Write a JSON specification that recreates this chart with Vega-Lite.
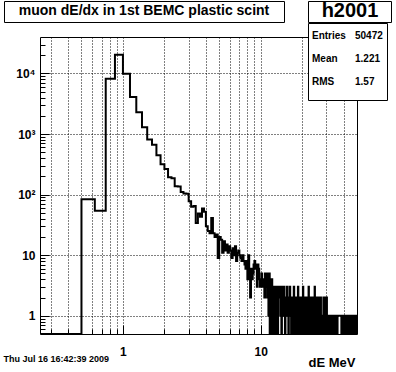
{
  "$schema": "https://vega.github.io/schema/vega-lite/v6.json",
  "width": 317,
  "height": 297,
  "autosize": "none",
  "padding": {"left": 40, "top": 37, "right": 39, "bottom": 38},
  "background": "white",
  "config": {
    "view": {"stroke": "black", "strokeWidth": 1, "fill": "white"},
    "font": "Liberation Sans"
  },
  "title": {
    "text": "Thu Jul 16 16:42:39 2009",
    "orient": "bottom",
    "anchor": "start",
    "frame": "bounds",
    "font": "Liberation Sans",
    "fontSize": 9,
    "fontWeight": "bold",
    "color": "black",
    "offset": -14
  },
  "datasets": {
    "bins": [
      {"lo": 0.25, "n": 0}, {"lo": 0.375, "n": 0},
      {"lo": 0.5, "n": 84}, {"lo": 0.625, "n": 54}, {"lo": 0.75, "n": 8200}, {"lo": 0.875, "n": 20400},
      {"lo": 1.0, "n": 9900}, {"lo": 1.125, "n": 4100}, {"lo": 1.25, "n": 2300}, {"lo": 1.375, "n": 1290},
      {"lo": 1.5, "n": 815}, {"lo": 1.625, "n": 664}, {"lo": 1.75, "n": 445}, {"lo": 1.875, "n": 318},
      {"lo": 2.0, "n": 264}, {"lo": 2.125, "n": 194}, {"lo": 2.25, "n": 186}, {"lo": 2.375, "n": 138},
      {"lo": 2.5, "n": 136}, {"lo": 2.625, "n": 110}, {"lo": 2.75, "n": 104}, {"lo": 2.875, "n": 103},
      {"lo": 3.0, "n": 78}, {"lo": 3.125, "n": 63}, {"lo": 3.25, "n": 65}, {"lo": 3.375, "n": 34},
      {"lo": 3.5, "n": 49}, {"lo": 3.625, "n": 43}, {"lo": 3.75, "n": 59}, {"lo": 3.875, "n": 52},
      {"lo": 4.0, "n": 30}, {"lo": 4.125, "n": 25}, {"lo": 4.25, "n": 23}, {"lo": 4.375, "n": 41},
      {"lo": 4.5, "n": 23}, {"lo": 4.625, "n": 20}, {"lo": 4.75, "n": 22}, {"lo": 4.875, "n": 9},
      {"lo": 5.0, "n": 20}, {"lo": 5.125, "n": 18}, {"lo": 5.25, "n": 11}, {"lo": 5.375, "n": 17},
      {"lo": 5.5, "n": 12}, {"lo": 5.625, "n": 15}, {"lo": 5.75, "n": 11}, {"lo": 5.875, "n": 14},
      {"lo": 6.0, "n": 12}, {"lo": 6.125, "n": 9}, {"lo": 6.25, "n": 13}, {"lo": 6.375, "n": 10},
      {"lo": 6.5, "n": 14}, {"lo": 6.625, "n": 8}, {"lo": 6.75, "n": 11}, {"lo": 6.875, "n": 12},
      {"lo": 7.0, "n": 10}, {"lo": 7.125, "n": 9}, {"lo": 7.25, "n": 8}, {"lo": 7.375, "n": 10},
      {"lo": 7.5, "n": 8}, {"lo": 7.625, "n": 7}, {"lo": 7.75, "n": 6}, {"lo": 7.875, "n": 8},
      {"lo": 8.0, "n": 4}, {"lo": 8.125, "n": 10}, {"lo": 8.25, "n": 6}, {"lo": 8.375, "n": 2},
      {"lo": 8.5, "n": 6}, {"lo": 8.625, "n": 4}, {"lo": 8.75, "n": 5}, {"lo": 8.875, "n": 7},
      {"lo": 9.0, "n": 8}, {"lo": 9.125, "n": 6}, {"lo": 9.25, "n": 7}, {"lo": 9.375, "n": 3},
      {"lo": 9.5, "n": 7}, {"lo": 9.625, "n": 6}, {"lo": 9.75, "n": 4}, {"lo": 9.875, "n": 3},
      {"lo": 10.0, "n": 4}, {"lo": 10.125, "n": 5}, {"lo": 10.25, "n": 3}, {"lo": 10.375, "n": 4},
      {"lo": 10.5, "n": 3}, {"lo": 10.625, "n": 2}, {"lo": 10.75, "n": 5}, {"lo": 10.875, "n": 3},
      {"lo": 11.0, "n": 5}, {"lo": 11.125, "n": 2}, {"lo": 11.25, "n": 4}, {"lo": 11.375, "n": 1},
      {"lo": 11.5, "n": 5}, {"lo": 11.625, "n": 0}, {"lo": 11.75, "n": 3}, {"lo": 11.875, "n": 0},
      {"lo": 12.0, "n": 4}, {"lo": 12.125, "n": 2}, {"lo": 12.25, "n": 0}, {"lo": 12.375, "n": 3},
      {"lo": 12.5, "n": 1}, {"lo": 12.625, "n": 3}, {"lo": 12.75, "n": 0}, {"lo": 12.875, "n": 2},
      {"lo": 13.0, "n": 3}, {"lo": 13.125, "n": 1}, {"lo": 13.25, "n": 0}, {"lo": 13.375, "n": 3},
      {"lo": 13.5, "n": 2}, {"lo": 13.625, "n": 2}, {"lo": 13.75, "n": 3}, {"lo": 13.875, "n": 1},
      {"lo": 14.0, "n": 2}, {"lo": 14.125, "n": 0}, {"lo": 14.25, "n": 3}, {"lo": 14.375, "n": 2},
      {"lo": 14.5, "n": 1}, {"lo": 14.625, "n": 2}, {"lo": 14.75, "n": 3}, {"lo": 14.875, "n": 1},
      {"lo": 15.0, "n": 0}, {"lo": 15.125, "n": 2}, {"lo": 15.25, "n": 1}, {"lo": 15.375, "n": 2},
      {"lo": 15.5, "n": 3}, {"lo": 15.625, "n": 1}, {"lo": 15.75, "n": 2}, {"lo": 15.875, "n": 0},
      {"lo": 16.0, "n": 2}, {"lo": 16.125, "n": 1}, {"lo": 16.25, "n": 3}, {"lo": 16.375, "n": 2},
      {"lo": 16.5, "n": 1}, {"lo": 16.625, "n": 0}, {"lo": 16.75, "n": 2}, {"lo": 16.875, "n": 1},
      {"lo": 17.0, "n": 2}, {"lo": 17.125, "n": 0}, {"lo": 17.25, "n": 1}, {"lo": 17.375, "n": 3},
      {"lo": 17.5, "n": 0}, {"lo": 17.625, "n": 2}, {"lo": 17.75, "n": 1}, {"lo": 17.875, "n": 0},
      {"lo": 18.0, "n": 2}, {"lo": 18.125, "n": 0}, {"lo": 18.25, "n": 1}, {"lo": 18.375, "n": 2},
      {"lo": 18.5, "n": 0}, {"lo": 18.625, "n": 3}, {"lo": 18.75, "n": 1}, {"lo": 18.875, "n": 0},
      {"lo": 19.0, "n": 2}, {"lo": 19.125, "n": 0}, {"lo": 19.25, "n": 1}, {"lo": 19.375, "n": 2},
      {"lo": 19.5, "n": 0}, {"lo": 19.625, "n": 1}, {"lo": 19.75, "n": 2}, {"lo": 19.875, "n": 0},
      {"lo": 20.0, "n": 1}, {"lo": 20.125, "n": 0}, {"lo": 20.25, "n": 3}, {"lo": 20.375, "n": 1},
      {"lo": 20.5, "n": 0}, {"lo": 20.625, "n": 2}, {"lo": 20.75, "n": 0}, {"lo": 20.875, "n": 1},
      {"lo": 21.0, "n": 2}, {"lo": 21.125, "n": 0}, {"lo": 21.25, "n": 1}, {"lo": 21.375, "n": 0},
      {"lo": 21.5, "n": 2}, {"lo": 21.625, "n": 0}, {"lo": 21.75, "n": 1}, {"lo": 21.875, "n": 2},
      {"lo": 22.0, "n": 0}, {"lo": 22.125, "n": 1}, {"lo": 22.25, "n": 3}, {"lo": 22.375, "n": 0},
      {"lo": 22.5, "n": 2}, {"lo": 22.625, "n": 1}, {"lo": 22.75, "n": 0}, {"lo": 22.875, "n": 1},
      {"lo": 23.0, "n": 2}, {"lo": 23.125, "n": 0}, {"lo": 23.25, "n": 2}, {"lo": 23.375, "n": 1},
      {"lo": 23.5, "n": 0}, {"lo": 23.625, "n": 2}, {"lo": 23.75, "n": 0}, {"lo": 23.875, "n": 1},
      {"lo": 24.0, "n": 2}, {"lo": 24.125, "n": 0}, {"lo": 24.25, "n": 2}, {"lo": 24.375, "n": 1},
      {"lo": 24.5, "n": 0}, {"lo": 24.625, "n": 3}, {"lo": 24.75, "n": 0}, {"lo": 24.875, "n": 2},
      {"lo": 25.0, "n": 1}, {"lo": 25.125, "n": 0}, {"lo": 25.25, "n": 2}, {"lo": 25.375, "n": 0},
      {"lo": 25.5, "n": 1}, {"lo": 25.625, "n": 2}, {"lo": 25.75, "n": 0}, {"lo": 25.875, "n": 2},
      {"lo": 26.0, "n": 1}, {"lo": 26.125, "n": 0}, {"lo": 26.25, "n": 2}, {"lo": 26.375, "n": 0},
      {"lo": 26.5, "n": 1}, {"lo": 26.625, "n": 2}, {"lo": 26.75, "n": 0}, {"lo": 26.875, "n": 2},
      {"lo": 27.0, "n": 1}, {"lo": 27.125, "n": 0}, {"lo": 27.25, "n": 2}, {"lo": 27.375, "n": 0},
      {"lo": 27.5, "n": 1}, {"lo": 27.625, "n": 0}, {"lo": 27.75, "n": 1}, {"lo": 27.875, "n": 0},
      {"lo": 28.0, "n": 1}, {"lo": 28.125, "n": 1}, {"lo": 28.25, "n": 0}, {"lo": 28.375, "n": 1},
      {"lo": 28.5, "n": 2}, {"lo": 28.625, "n": 0}, {"lo": 28.75, "n": 1}, {"lo": 28.875, "n": 2},
      {"lo": 29.0, "n": 0}, {"lo": 29.125, "n": 1}, {"lo": 29.25, "n": 0}, {"lo": 29.375, "n": 2},
      {"lo": 29.5, "n": 1}, {"lo": 29.625, "n": 0}, {"lo": 29.75, "n": 2}, {"lo": 29.875, "n": 0},
      {"lo": 30.0, "n": 1}, {"lo": 30.125, "n": 2}, {"lo": 30.25, "n": 0}, {"lo": 30.375, "n": 1},
      {"lo": 30.5, "n": 0}, {"lo": 30.625, "n": 1}, {"lo": 30.75, "n": 0}, {"lo": 30.875, "n": 1},
      {"lo": 31.0, "n": 1}, {"lo": 31.125, "n": 0}, {"lo": 31.25, "n": 1}, {"lo": 31.375, "n": 0},
      {"lo": 31.5, "n": 0}, {"lo": 31.625, "n": 1}, {"lo": 31.75, "n": 0}, {"lo": 31.875, "n": 1},
      {"lo": 32.0, "n": 1}, {"lo": 32.125, "n": 0}, {"lo": 32.25, "n": 1}, {"lo": 32.375, "n": 0},
      {"lo": 32.5, "n": 1}, {"lo": 32.625, "n": 0}, {"lo": 32.75, "n": 0}, {"lo": 32.875, "n": 1},
      {"lo": 33.0, "n": 0}, {"lo": 33.125, "n": 1}, {"lo": 33.25, "n": 1}, {"lo": 33.375, "n": 0},
      {"lo": 33.5, "n": 1}, {"lo": 33.625, "n": 0}, {"lo": 33.75, "n": 1}, {"lo": 33.875, "n": 0},
      {"lo": 34.0, "n": 1}, {"lo": 34.125, "n": 0}, {"lo": 34.25, "n": 0}, {"lo": 34.375, "n": 1},
      {"lo": 34.5, "n": 0}, {"lo": 34.625, "n": 1}, {"lo": 34.75, "n": 1}, {"lo": 34.875, "n": 0},
      {"lo": 35.0, "n": 1}, {"lo": 35.125, "n": 0}, {"lo": 35.25, "n": 1}, {"lo": 35.375, "n": 0},
      {"lo": 35.5, "n": 1}, {"lo": 35.625, "n": 0}, {"lo": 35.75, "n": 1}, {"lo": 35.875, "n": 1},
      {"lo": 36.0, "n": 0}, {"lo": 36.125, "n": 1}, {"lo": 36.25, "n": 1}, {"lo": 36.375, "n": 1},
      {"lo": 36.5, "n": 1}, {"lo": 36.625, "n": 1}, {"lo": 36.75, "n": 1}, {"lo": 36.875, "n": 1},
      {"lo": 37.0, "n": 1}, {"lo": 37.125, "n": 1}, {"lo": 37.25, "n": 1}, {"lo": 37.375, "n": 1},
      {"lo": 37.5, "n": 1}, {"lo": 37.625, "n": 1}, {"lo": 37.75, "n": 1}, {"lo": 37.875, "n": 1},
      {"lo": 38.0, "n": 1}, {"lo": 38.125, "n": 1}, {"lo": 38.25, "n": 1}, {"lo": 38.375, "n": 1},
      {"lo": 38.5, "n": 0}, {"lo": 38.625, "n": 1}, {"lo": 38.75, "n": 1}, {"lo": 38.875, "n": 1},
      {"lo": 39.0, "n": 0}, {"lo": 39.125, "n": 1}, {"lo": 39.25, "n": 1}, {"lo": 39.375, "n": 1},
      {"lo": 39.5, "n": 1}, {"lo": 39.625, "n": 0}, {"lo": 39.75, "n": 0}, {"lo": 39.875, "n": 1},
      {"lo": 40.0, "n": 1}, {"lo": 40.125, "n": 1}, {"lo": 40.25, "n": 0}, {"lo": 40.375, "n": 1},
      {"lo": 40.5, "n": 1}, {"lo": 40.625, "n": 1}, {"lo": 40.75, "n": 1}, {"lo": 40.875, "n": 1},
      {"lo": 41.0, "n": 0}, {"lo": 41.125, "n": 1}, {"lo": 41.25, "n": 1}, {"lo": 41.375, "n": 0},
      {"lo": 41.5, "n": 1}, {"lo": 41.625, "n": 1}, {"lo": 41.75, "n": 1}, {"lo": 41.875, "n": 1},
      {"lo": 42.0, "n": 0}, {"lo": 42.125, "n": 1}, {"lo": 42.25, "n": 1}, {"lo": 42.375, "n": 1},
      {"lo": 42.5, "n": 1}, {"lo": 42.625, "n": 0}, {"lo": 42.75, "n": 0}, {"lo": 42.875, "n": 1},
      {"lo": 43.0, "n": 1}, {"lo": 43.125, "n": 1}, {"lo": 43.25, "n": 0}, {"lo": 43.375, "n": 1},
      {"lo": 43.5, "n": 1}, {"lo": 43.625, "n": 1}, {"lo": 43.75, "n": 1}, {"lo": 43.875, "n": 0},
      {"lo": 44.0, "n": 1}, {"lo": 44.125, "n": 1}, {"lo": 44.25, "n": 0}, {"lo": 44.375, "n": 1},
      {"lo": 44.5, "n": 1}, {"lo": 44.625, "n": 0}, {"lo": 44.75, "n": 1}, {"lo": 44.875, "n": 0},
      {"lo": 45.0, "n": 1}, {"lo": 45.125, "n": 1}, {"lo": 45.25, "n": 0}, {"lo": 45.375, "n": 1},
      {"lo": 45.5, "n": 0}, {"lo": 45.625, "n": 1}, {"lo": 45.75, "n": 0}, {"lo": 45.875, "n": 0},
      {"lo": 46.0, "n": 1}, {"lo": 46.125, "n": 0}, {"lo": 46.25, "n": 1}, {"lo": 46.375, "n": 1},
      {"lo": 46.5, "n": 0}, {"lo": 46.625, "n": 1}, {"lo": 46.75, "n": 0}, {"lo": 46.875, "n": 1},
      {"lo": 47.0, "n": 0}, {"lo": 47.125, "n": 1}, {"lo": 47.25, "n": 0}, {"lo": 47.375, "n": 1},
      {"lo": 47.5, "n": 1}, {"lo": 47.625, "n": 0}, {"lo": 47.75, "n": 1}, {"lo": 47.875, "n": 0},
      {"lo": 48.0, "n": 1}, {"lo": 48.125, "n": 0}, {"lo": 48.25, "n": 1}, {"lo": 48.375, "n": 0},
      {"lo": 48.5, "n": 1}, {"lo": 48.625, "n": 1}, {"lo": 48.75, "n": 0}, {"lo": 48.875, "n": 1},
      {"lo": 49.0, "n": 0}, {"lo": 49.125, "n": 1}, {"lo": 49.25, "n": 0}, {"lo": 49.375, "n": 1},
      {"lo": 49.5, "n": 0}, {"lo": 49.625, "n": 1}, {"lo": 49.75, "n": 0}, {"lo": 49.875, "n": 1}
    ],
    "stats": [
      {"cell": "Entries"}, {"cell": "Mean"}, {"cell": "RMS"},
      {"cell": "50472"}, {"cell": "1.221"}, {"cell": "1.57"}
    ]
  },
  "layer": [
    {
      "data": {"name": "bins"},
      "mark": {"type": "line", "interpolate": "step-after", "color": "black", "strokeWidth": 2, "clip": true},
      "encoding": {
        "x": {
          "field": "lo", "type": "quantitative",
          "scale": {"type": "log", "domain": [0.25, 50], "nice": false},
          "axis": {
            "title": "dE MeV",
            "values": [0.3, 0.4, 0.5, 0.6, 0.7, 0.8, 0.9, 1, 2, 3, 4, 5, 6, 7, 8, 9, 10, 20, 30, 40],
            "labelExpr": "datum.value == 1 ? '1' : datum.value == 10 ? '10' : ''",
            "domain": false,
            "grid": true, "gridColor": "black", "gridDash": [1, 2], "gridWidth": 1, "gridOpacity": 1,
            "ticks": true, "tickColor": "black", "tickWidth": 1,
            "tickSize": {"condition": {"test": "datum.value == 1 || datum.value == 10", "value": -9}, "value": -5},
            "labelPadding": 21,
            "labelFont": "Liberation Sans", "labelFontWeight": "bold", "labelFontSize": 12, "labelColor": "black",
            "labelFlush": false, "labelOverlap": false, "labelBound": false,
            "titleFont": "Liberation Sans", "titleFontWeight": "bold", "titleFontSize": 13, "titleColor": "black",
            "titleX": 315, "titleY": 32, "titleAlign": "right", "titleBaseline": "alphabetic"
          }
        },
        "y": {
          "field": "n", "type": "quantitative",
          "scale": {"type": "log", "domain": [0.5, 40000], "nice": false, "clamp": true},
          "axis": {
            "title": null,
            "values": [0.6, 0.7, 0.8, 0.9, 1, 2, 3, 4, 5, 6, 7, 8, 9, 10, 20, 30, 40, 50, 60, 70, 80, 90, 100, 200, 300, 400, 500, 600, 700, 800, 900, 1000, 2000, 3000, 4000, 5000, 6000, 7000, 8000, 9000, 10000, 20000, 30000],
            "labelExpr": "datum.value == 1 ? '1' : datum.value == 10 ? '10' : datum.value == 100 ? '10²' : datum.value == 1000 ? '10³' : datum.value == 10000 ? '10⁴' : ''",
            "domain": false,
            "grid": true, "gridColor": "black", "gridDash": [1, 2], "gridWidth": 1,
            "gridOpacity": {"condition": {"test": "indexof([1, 10, 100, 1000, 10000], datum.value) >= 0", "value": 1}, "value": 0},
            "ticks": true, "tickColor": "black", "tickWidth": 1,
            "tickSize": {"condition": {"test": "indexof([1, 10, 100, 1000, 10000], datum.value) >= 0", "value": -9}, "value": -5},
            "labelPadding": 14,
            "labelFont": "Liberation Sans", "labelFontWeight": "bold", "labelFontSize": 12, "labelColor": "black",
            "labelFlush": false, "labelOverlap": false, "labelBound": false
          }
        }
      }
    },
    {
      "data": {"name": "stats"},
      "mark": {"type": "point", "opacity": 0},
      "encoding": {
        "color": {
          "field": "cell", "type": "nominal",
          "scale": {"domain": ["Entries", "Mean", "RMS", "50472", "1.221", "1.57"], "range": ["black", "black", "black", "black", "black", "black"]},
          "legend": {
            "orient": "none", "legendX": 268, "legendY": -14, "title": null, "columns": 2,
            "strokeColor": "black", "fillColor": "white", "padding": 4, "cornerRadius": 0,
            "symbolSize": 529, "symbolOpacity": 0, "symbolStrokeWidth": 0,
            "labelOffset": -23, "labelBaseline": "alphabetic",
            "labelFont": "Liberation Sans", "labelFontWeight": "bold", "labelFontSize": 10, "labelColor": "black",
            "columnPadding": 9, "rowPadding": 0, "labelLimit": 100,
            "encode": {
              "labels": {
                "update": {
                  "align": [{"test": "datum.index >= 3 || indexof(['50472', '1.221', '1.57'], datum.label) >= 0", "value": "right"}, {"value": "left"}],
                  "dx": [{"test": "datum.index >= 3 || indexof(['50472', '1.221', '1.57'], datum.label) >= 0", "value": 28}, {"value": 0}]
                }
              }
            }
          }
        },
        "shape": {
          "datum": "h2001",
          "legend": {
            "orient": "none", "legendX": 268, "legendY": -36,
            "title": "h2001", "titleFont": "Liberation Sans", "titleFontSize": 20, "titleFontWeight": "bold", "titleColor": "black",
            "titleAnchor": "middle", "titlePadding": 0, "titleLimit": 200,
            "strokeColor": "black", "fillColor": "white", "padding": 0, "cornerRadius": 0,
            "labelExpr": "''", "labelFontSize": 1, "labelOffset": 82,
            "symbolSize": 0, "symbolOpacity": 0, "symbolStrokeWidth": 0
          }
        }
      }
    },
    {
      "data": {"name": "stats"},
      "mark": {"type": "point", "opacity": 0},
      "encoding": {
        "stroke": {
          "datum": "muon dE/dx in 1st BEMC plastic scint",
          "legend": {
            "orient": "none", "legendX": -36, "legendY": -36,
            "title": "muon dE/dx in 1st BEMC plastic scint", "titleFont": "Liberation Sans", "titleFontSize": 14, "titleFontWeight": "bold", "titleColor": "black",
            "titleAnchor": "middle", "titlePadding": 0, "titleLimit": 400,
            "strokeColor": "black", "fillColor": "white", "padding": 3, "cornerRadius": 0,
            "labelExpr": "''", "labelFontSize": 1, "labelOffset": 273,
            "symbolSize": 0, "symbolOpacity": 0, "symbolStrokeWidth": 0
          }
        }
      }
    }
  ]
}
